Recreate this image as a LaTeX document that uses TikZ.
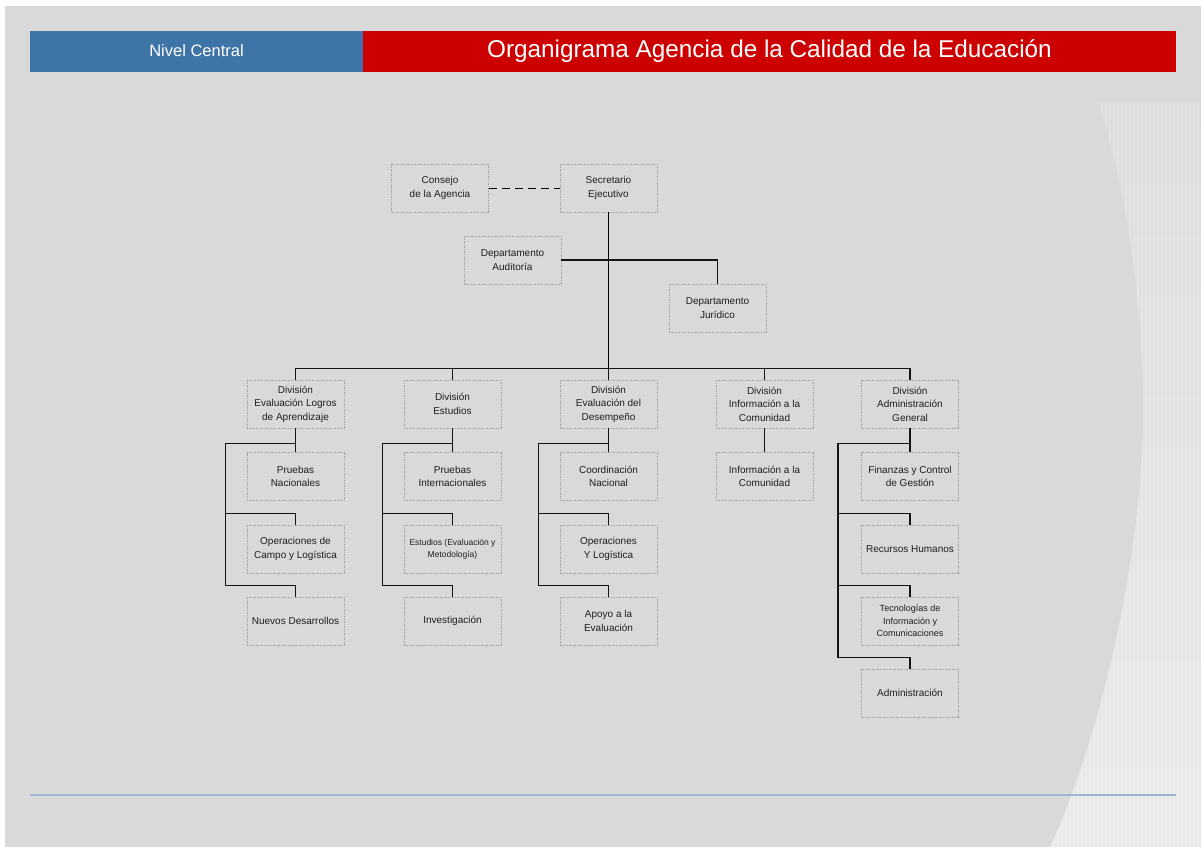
\documentclass[tikz,border=0pt]{standalone}
\usepackage{fontspec}
\setmainfont{Liberation Sans}
\usetikzlibrary{calc}
\definecolor{pagegray}{HTML}{D9D9D9}
\definecolor{arctop}{HTML}{DBDBDB}
\definecolor{arcbottom}{HTML}{E9E9E9}
\definecolor{headblue}{HTML}{3F74A6}
\definecolor{headred}{HTML}{CC0000}
\definecolor{boxline}{HTML}{A3A3A3}
\definecolor{rule}{HTML}{9DB6D4}
\definecolor{ink}{HTML}{1E1E1E}
\definecolor{linkink}{HTML}{141414}
\tikzset{
  unit/.style={draw=boxline, densely dotted, line width=0.7pt, fill=pagegray,
    minimum width=97pt, minimum height=48pt, inner sep=1pt, align=center,
    text=ink, font=\fontsize{10}{13.5}\selectfont},
  smalltext/.style={font=\fontsize{9}{12.5}\selectfont},
  tinytext/.style={font=\fontsize{8.5}{12.5}\selectfont},
  conn/.style={draw=linkink, line width=1.3pt},
  trunk/.style={draw=black, line width=0.8pt},
  advisory/.style={draw=black, line width=0.8pt, dash pattern=on 8pt off 5pt}
}
\begin{document}
\begin{tikzpicture}[x=1pt,y=-1pt]
\useasboundingbox (0,0) rectangle (1201,847);
% page and backdrop
\fill[white] (0,0) rectangle (1201,847);
\fill[pagegray] (5,6) rectangle (1201,847);
\begin{scope}
  \clip (1098,102) -- (1201,102) -- (1201,847) -- (1050,847)
    .. controls (1100,740) and (1141,560) .. (1143,422)
    .. controls (1145,330) and (1130,200) .. (1098,102) -- cycle;
  \shade[top color=arctop, bottom color=arcbottom] (1040,102) rectangle (1201,847);
  % faint vertical striping of the backdrop
  \foreach \sx in {1042,1046,...,1200}{
    \draw[white, opacity=0.22, line width=1.3pt] (\sx,102) -- (\sx,847);
  }
\end{scope}
% header bars
\fill[headblue] (30,31) rectangle (363,72);
\fill[headred] (363,31) rectangle (1176,72);
\node[text=white, font=\fontsize{16.5}{18}\selectfont] (lvl) at (196.5,51) {Nivel Central};
\node[text=white, font=\fontsize{24.3}{28}\selectfont] (ttl) at (769.5,51) {Organigrama Agencia de la Calidad de la Educación};
% bottom rule
\draw[rule, line width=1.2pt] (30,795) -- (1176,795);

% top level
\node[unit] (cons) at (440,188) {Consejo\\de la Agencia};
\node[unit] (sec)  at (608.5,188) {Secretario\\Ejecutivo};
\node[unit] (aud)  at (512.5,260) {Departamento\\Auditoría};
\node[unit] (jur)  at (717.5,308) {Departamento\\Jurídico};

% divisions
\node[unit] (d1) at (295.5,404) {División\\Evaluación Logros\\de Aprendizaje};
\node[unit] (d2) at (452.5,404) {División\\Estudios};
\node[unit] (d3) at (608.5,404) {División\\Evaluación del\\Desempeño};
\node[unit] (d4) at (764.5,404) {División\\Información a la\\Comunidad};
\node[unit] (d5) at (910,404) {División\\Administración\\General};

% units under each division
\node[unit] (d1a) at (295.5,476.5) {Pruebas\\Nacionales};
\node[unit] (d1b) at (295.5,549) {Operaciones de\\Campo y Logística};
\node[unit] (d1c) at (295.5,621) {Nuevos Desarrollos};

\node[unit] (d2a) at (452.5,476.5) {Pruebas\\Internacionales};
\node[unit, tinytext] (d2b) at (452.5,549) {Estudios (Evaluación y\\Metodología)};
\node[unit] (d2c) at (452.5,621) {Investigación};

\node[unit] (d3a) at (608.5,476.5) {Coordinación\\Nacional};
\node[unit] (d3b) at (608.5,549) {Operaciones\\Y Logística};
\node[unit] (d3c) at (608.5,621) {Apoyo a la\\Evaluación};

\node[unit] (d4a) at (764.5,476.5) {Información a la\\Comunidad};

\node[unit] (d5a) at (910,476.5) {Finanzas y Control\\de Gestión};
\node[unit] (d5b) at (910,549) {Recursos Humanos};
\node[unit, smalltext] (d5c) at (910,621) {Tecnologías de\\Información y\\Comunicaciones};
\node[unit] (d5d) at (910,693) {Administración};

% reporting lines at the top
\draw[advisory] (cons.east) -- (sec.west);
\coordinate (bus) at ($(sec.south)+(0,156)$);
\draw[trunk] (sec.south) -- (bus);
\draw[conn] (aud.east) -| (jur.north);
\draw[conn] (d1.north) |- (bus) -| (d5.north);
\draw[conn] (d2.north) -- ++(0,-12);
\draw[conn] (d3.north) -- ++(0,-12);
\draw[conn] (d4.north) -- ++(0,-12);

% division to unit lines
\foreach \d/\first/\mid/\last in {d1/d1a/d1b/d1c, d2/d2a/d2b/d2c, d3/d3a/d3b/d3c}{
  \draw[conn] (\d.south) -- (\first.north);
  \draw[conn] ($(\d.south)+(0,15)$) -- ++(-70,0) |- ($(\last.north)+(0,-11)$) -- (\last.north);
  \draw[conn] ($(\d.south)+(-70,15)$) |- ($(\mid.north)+(0,-11)$) -- (\mid.north);
}
\draw[conn] (d4.south) -- (d4a.north);
\draw[conn] (d5.south) -- (d5a.north);
\draw[conn] ($(d5.south)+(0,15)$) -- ++(-72,0) |- ($(d5d.north)+(0,-11)$) -- (d5d.north);
\draw[conn] ($(d5.south)+(-72,15)$) |- ($(d5b.north)+(0,-11)$) -- (d5b.north);
\draw[conn] ($(d5.south)+(-72,15)$) |- ($(d5c.north)+(0,-11)$) -- (d5c.north);
\end{tikzpicture}
\end{document}
